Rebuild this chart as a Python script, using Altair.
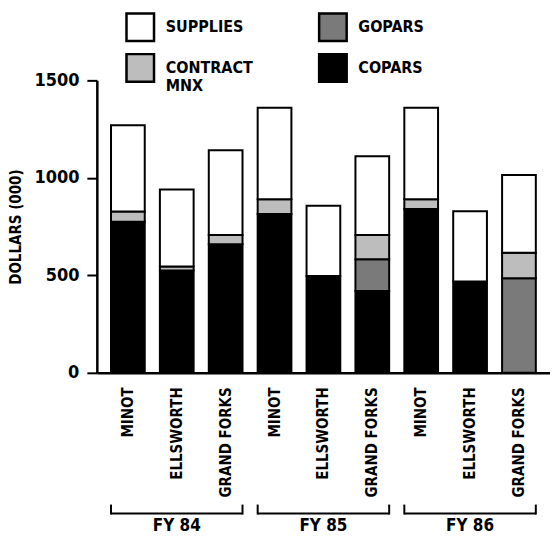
import altair as alt
import pandas as pd

years = ["FY 84"] * 3 + ["FY 85"] * 3 + ["FY 86"] * 3
bases = ["MINOT", "ELLSWORTH", "GRAND FORKS"] * 3
copars = [775, 525, 660, 815, 497, 420, 840, 468, 0]
gopars = [0, 0, 0, 0, 0, 162, 0, 0, 485]
contract = [52, 20, 47, 75, 0, 125, 50, 0, 131]
supplies = [443, 395, 435, 470, 360, 404, 470, 361, 398]

categories = ["SUPPLIES", "CONTRACT MNX", "GOPARS", "COPARS"]
stack_order = {"COPARS": 0, "GOPARS": 1, "CONTRACT MNX": 2, "SUPPLIES": 3}
fills = ["#ffffff", "#bdbdbd", "#7a7a7a", "#000000"]

keys = [f"{y}|{b}" for y, b in zip(years, bases)]
rows = []
for i, k in enumerate(keys):
    for cat, vals in [("COPARS", copars), ("GOPARS", gopars),
                      ("CONTRACT MNX", contract), ("SUPPLIES", supplies)]:
        if vals[i] > 0:
            rows.append({"key": k, "category": cat, "value": vals[i],
                         "ord": stack_order[cat]})
df = pd.DataFrame(rows)

fy = ["FY 84", "FY 85", "FY 86"]
br = pd.DataFrame({
    "year": fy,
    "first": [keys[0], keys[3], keys[6]],
    "last": [keys[2], keys[5], keys[8]],
    "mid": [keys[1], keys[4], keys[7]],
})

FONT = "Liberation Sans Narrow, DejaVu Sans Condensed, sans-serif"
xscale = alt.Scale(domain=keys, paddingInner=0.31, paddingOuter=0.29)
xaxis = alt.Axis(title=None, labelAngle=-90, labelAlign="right",
                 labelBaseline="middle", ticks=False, labelPadding=14,
                 labelExpr="split(datum.label, '|')[1]",
                 labelFontSize=15, labelFont=FONT, labelFontWeight="bold",
                 labelColor="black", domainColor="black", domainWidth=2.5)

bars = alt.Chart(df).mark_bar(stroke="black", strokeWidth=2).encode(
    x=alt.X("key:N", scale=xscale, sort=None, axis=xaxis),
    y=alt.Y("value:Q", stack="zero",
            scale=alt.Scale(domain=[0, 1500]),
            axis=alt.Axis(values=[0, 500, 1000, 1500], title="DOLLARS (000)",
                          format="d",
                          grid=False, tickSize=10, tickWidth=2, tickColor="black",
                          domainColor="black", domainWidth=2.5,
                          labelFontSize=18, labelFont=FONT, labelFontWeight="bold",
                          labelColor="black", labelPadding=8,
                          titleFontSize=15, titleFont=FONT, titleFontWeight="bold",
                          titlePadding=10, titleColor="black")),
    color=alt.Color("category:N",
                    scale=alt.Scale(domain=categories, range=fills),
                    legend=alt.Legend(title=None, orient="none", legendX=28, legendY=-69,
                                      columns=2, symbolType="square", symbolSize=760,
                                      symbolStrokeColor="black", symbolStrokeWidth=2.5,
                                      labelFontSize=16, labelFont=FONT,
                                      labelFontWeight="bold", labelColor="black",
                                      labelOffset=10, columnPadding=60, rowPadding=2,
                                      labelLimit=200,
                                      labelExpr="datum.label == 'CONTRACT MNX' ? ['CONTRACT', 'MNX'] : datum.label")),
    order=alt.Order("ord:Q", sort="ascending"),
)

hline = alt.Chart(br).mark_rule(color="black", strokeWidth=2).encode(
    x=alt.X("first:N", scale=xscale, bandPosition=0, axis=xaxis),
    x2=alt.X2("last:N", bandPosition=1),
    y=alt.value(434),
)
ltick = alt.Chart(br).mark_rule(color="black", strokeWidth=2).encode(
    x=alt.X("first:N", scale=xscale, bandPosition=0, axis=xaxis),
    y=alt.value(425), y2=alt.value(435),
)
rtick = alt.Chart(br).mark_rule(color="black", strokeWidth=2).encode(
    x=alt.X("last:N", scale=xscale, bandPosition=1, axis=xaxis),
    y=alt.value(425), y2=alt.value(435),
)
fylab = alt.Chart(br).mark_text(font=FONT, fontWeight="bold", fontSize=17,
                                baseline="top", color="black").encode(
    x=alt.X("mid:N", scale=xscale, axis=xaxis),
    y=alt.value(438),
    text="year:N",
)

chart = alt.layer(bars, hline, ltick, rtick, fylab).properties(
    width=454, height=293,
    autosize=alt.AutoSizeParams(type="none"),
    padding={"left": 89, "top": 72, "right": 0, "bottom": 170},
).configure_view(stroke=None)

chart.save("out.html", embed_options={"renderer": "svg", "actions": False})
